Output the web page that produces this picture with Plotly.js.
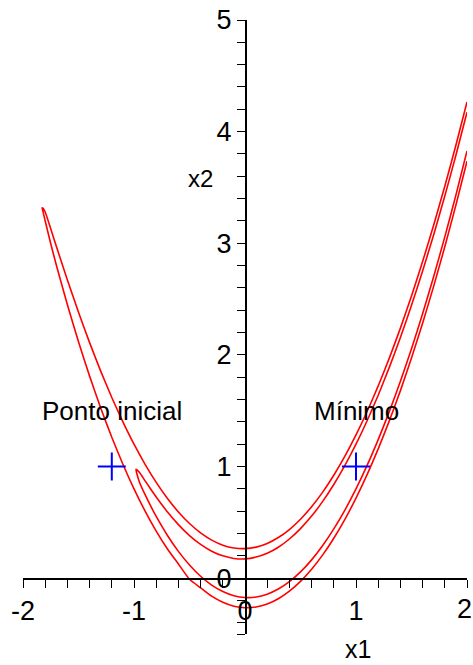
<!DOCTYPE html>
<html>
<head>
<meta charset="utf-8">
<script src="https://cdn.plot.ly/plotly-3.0.1.min.js"></script>
<style>
  html, body { margin: 0; padding: 0; background: #ffffff; }
  #plot { width: 473px; height: 665px; }
</style>
</head>
<body>
<div id="plot"></div>
<script>
// Level curves of the Rosenbrock valley, two levels; each branch listed by x.
const outerX = [-1.82,-1.8,-1.75,-1.7,-1.6,-1.5,-1.4,-1.3,-1.2,-1.1,-1,-0.9,-0.8,-0.7,-0.6,-0.5,-0.4,-0.3,-0.2,-0.1,0,
                0.1,0.2,0.3,0.4,0.5,0.6,0.7,0.8,0.9,1,1.1,1.2,1.3,1.4,1.5,1.6,1.7,1.8,1.9,2];
const outerLow = [3.285,3.200,2.996,2.806,2.449,2.118,1.810,1.525,1.262,1.021,0.800,0.601,0.422,0.264,0.127,-0.010,-0.086,-0.161,-0.216,-0.251,-0.265,
                  -0.258,-0.231,-0.184,-0.116,-0.028,0.080,0.209,0.358,0.527,0.717,0.927,1.158,1.409,1.680,1.972,2.284,2.616,2.969,3.342,3.735];
const outerHigh = [3.315,3.280,3.129,2.974,2.671,2.382,2.110,1.855,1.618,1.400,1.200,1.020,0.858,0.716,0.593,0.490,0.406,0.341,0.296,0.271,0.265,
                   0.278,0.311,0.364,0.436,0.528,0.640,0.771,0.922,1.093,1.283,1.493,1.722,1.971,2.240,2.528,2.836,3.164,3.511,3.878,4.265];
const outerTip = [-1.828, 3.318];

const innerX = [-0.95,-0.9,-0.85,-0.8,-0.7,-0.6,-0.5,-0.4,-0.3,-0.2,-0.1,0,
                0.1,0.2,0.3,0.4,0.5,0.6,0.7,0.8,0.9,1,1.1,1.2,1.3,1.4,1.5,1.6,1.7,1.8,1.9,2];
const innerLow = [0.858,0.748,0.647,0.553,0.385,0.240,0.118,0.017,-0.062,-0.120,-0.157,-0.173,
                  -0.169,-0.143,-0.097,-0.031,0.056,0.164,0.292,0.441,0.610,0.800,1.010,1.241,1.492,1.764,2.056,2.369,2.703,3.057,3.431,3.827];
const innerHigh = [0.947,0.872,0.799,0.727,0.595,0.480,0.382,0.303,0.242,0.200,0.177,0.173,
                   0.189,0.223,0.277,0.351,0.444,0.556,0.688,0.839,1.010,1.200,1.410,1.639,1.888,2.156,2.444,2.751,3.077,3.423,3.789,4.173];
const innerTip = [-0.983, 0.975];

// Marked points and their captions
const pointX = [-1.2, 1];
const pointY = [1, 1];
const captionText = ['Ponto inicial', 'Mínimo'];
const captionX = [-1.2, 1];
const captionY = [1.5, 1.5];

// Axis ticks (the last x label sits at the window edge and is placed separately)
const xTickVals = [-2,-1.8,-1.6,-1.4,-1.2,-1,-0.8,-0.6,-0.4,-0.2,0,0.2,0.4,0.6,0.8,1,1.2,1.4,1.6,1.8,2];
const xTickText = ['-2','','','','','-1','','','','','0','','','','','1','','','','',''];
const xEdgeLabel = '2';
const yTickVals = [-0.5,-0.4,-0.2,0,0.2,0.4,0.6,0.8,1,1.2,1.4,1.6,1.8,2,2.2,2.4,2.6,2.8,3,3.2,3.4,3.6,3.8,4,4.2,4.4,4.6,4.8,5];
const yTickText = ['','','','0','','','','','1','','','','','2','','','','','3','','','','','4','','','','','5'];

// Walk the lower branch right-to-left, round the tip, return along the upper branch.
function closedPath(xs, low, high, tip) {
  const px = xs.slice().reverse().concat([tip[0]], xs);
  const py = low.slice().reverse().concat([tip[1]], high);
  return { px, py };
}

const outer = closedPath(outerX, outerLow, outerHigh, outerTip);
const inner = closedPath(innerX, innerLow, innerHigh, innerTip);

const curveLine = { color: '#ff0000', width: 1.6, shape: 'spline', smoothing: 0.5 };

const traces = [
  { x: outer.px, y: outer.py, type: 'scatter', mode: 'lines', line: curveLine, hoverinfo: 'skip' },
  { x: inner.px, y: inner.py, type: 'scatter', mode: 'lines', line: curveLine, hoverinfo: 'skip' },
  { x: pointX, y: pointY, type: 'scatter', mode: 'markers', hoverinfo: 'skip',
    marker: { symbol: 'cross-thin-open', size: 20, color: '#0000ff', line: { color: '#0000ff', width: 2 } } }
];

const textFont = { family: 'Liberation Sans, Arial, sans-serif', color: '#000000' };

const annotations = captionText.map((t, i) => ({
  x: captionX[i], y: captionY[i], xref: 'x', yref: 'y', text: t, showarrow: false,
  xanchor: 'center', yanchor: 'middle', font: Object.assign({ size: 26 }, textFont)
}));
annotations.push({ x: -0.4, y: 3.58, xref: 'x', yref: 'y', text: 'x2', showarrow: false,
  xanchor: 'center', yanchor: 'middle', font: Object.assign({ size: 24 }, textFont) });
annotations.push({ x: 1.015, y: -0.024, xref: 'x', yref: 'paper', text: 'x1', showarrow: false,
  xanchor: 'center', yanchor: 'middle', font: Object.assign({ size: 25 }, textFont) });
annotations.push({ x: 1.0135, y: 0.040, xref: 'paper', yref: 'paper', text: xEdgeLabel, showarrow: false,
  xanchor: 'right', yanchor: 'middle', borderpad: 0, font: Object.assign({ size: 27 }, textFont) });

const axisCommon = {
  showline: true, linecolor: '#000000', linewidth: 1.5,
  ticks: 'outside', ticklen: 8, tickwidth: 1, tickcolor: '#000000',
  tickmode: 'array', showgrid: false, zeroline: false, fixedrange: true,
  ticklabeloverflow: 'allow',
  tickfont: Object.assign({ size: 27 }, textFont), anchor: 'free'
};

const layout = {
  width: 473, height: 665,
  margin: { l: 23, r: 6, t: 20, b: 31 },
  paper_bgcolor: '#ffffff', plot_bgcolor: '#ffffff',
  showlegend: false,
  xaxis: Object.assign({}, axisCommon, {
    range: [-2, 2], tickvals: xTickVals, ticktext: xTickText,
    side: 'bottom', position: 0.5 / 5.5
  }),
  yaxis: Object.assign({}, axisCommon, {
    range: [-0.5, 5], tickvals: yTickVals, ticktext: yTickText,
    side: 'left', position: 0.5
  }),
  annotations: annotations
};

Plotly.newPlot('plot', traces, layout, { displayModeBar: false, staticPlot: true });
</script>
</body>
</html>
